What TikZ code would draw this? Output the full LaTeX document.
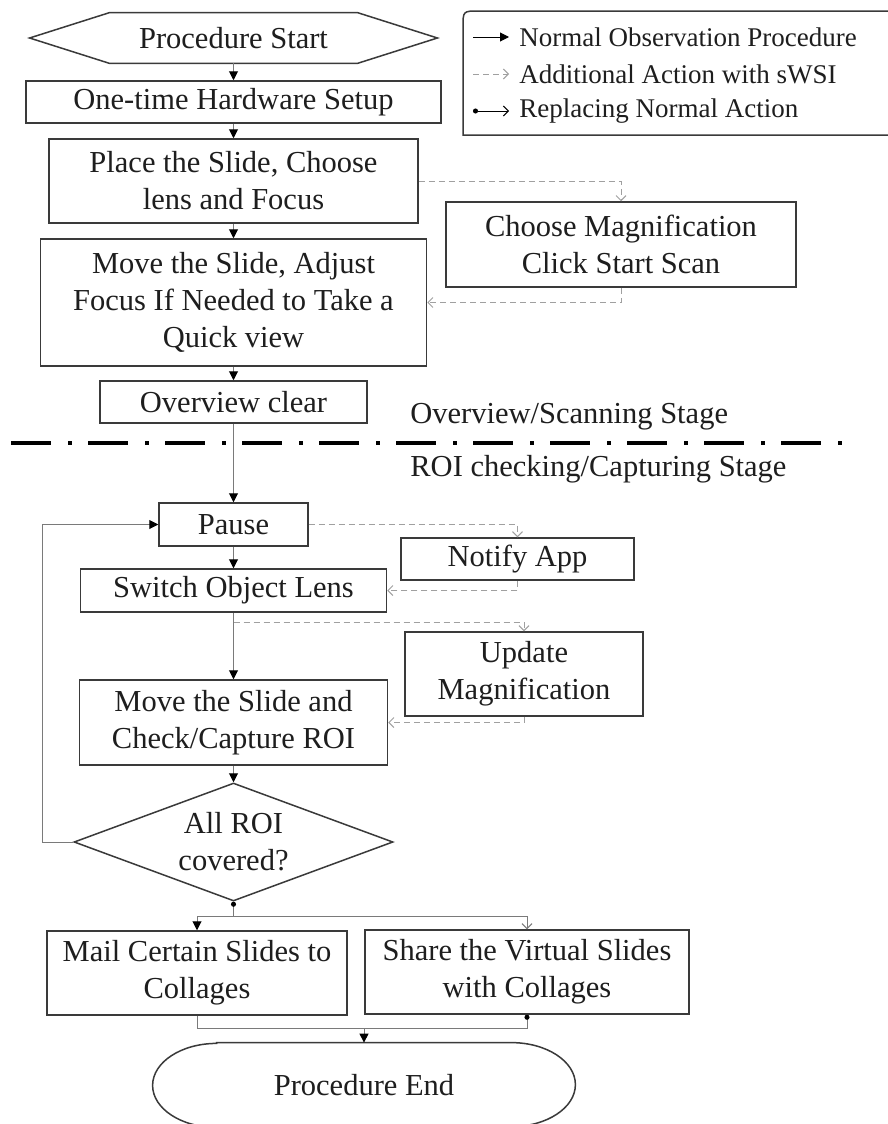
\documentclass[tikz,border=0pt]{standalone}
\usepackage{fontspec}
\setmainfont{Liberation Serif}
\usetikzlibrary{arrows.meta, shapes.geometric, calc}
\definecolor{ink}{HTML}{1E1E1E}
\definecolor{edge}{HTML}{3A3A3A}
\definecolor{wire}{HTML}{7A7A7A}
\definecolor{extra}{HTML}{A0A0A0}
\newcommand{\bodyfont}{\fontsize{15.25pt}{18.5pt}\selectfont}
\newcommand{\keyfont}{\fontsize{13.5pt}{15.5pt}\selectfont}
\tikzset{
  box/.style={draw=edge, line width=0.75pt, text=ink, font=\bodyfont, align=center, inner sep=0pt},
  dec/.style={diamond, aspect=2.7, draw=edge, line width=0.75pt, text=ink, font=\bodyfont,
              align=center, inner sep=0pt},
  bare/.style={text=ink, font=\bodyfont, align=center, inner sep=0pt},
  outline/.style={draw=edge, line width=0.75pt},
  arr/.style={-{Triangle[length=4.5pt, width=4.5pt, color=black]}, line width=0.5pt, draw=wire},
  addarr/.style={-{Straight Barb[length=2.5pt, width=5pt]}, line width=0.5pt, draw=extra,
                 dash pattern=on 3pt off 2pt},
  reparr/.style={{Circle[length=2.5pt, color=black]}-{Straight Barb[length=2.5pt, width=5pt]},
                 line width=0.5pt, draw=wire},
  repline/.style={{Circle[length=2.5pt, color=black]}-, line width=0.5pt, draw=wire},
  stagesep/.style={line width=2pt, draw=black, dash pattern=on 20pt off 8.5pt on 2pt off 8pt},
  key/.style={text=ink, font=\keyfont, anchor=west, inner sep=0pt},
}

\begin{document}
\begin{tikzpicture}[x=0.5pt, y=-0.5pt]
  \useasboundingbox[fill=white] (0,0) rectangle (888,1124);

  \node[bare, minimum width=203.5pt, minimum height=25pt] (start) at (233.5,38) {Procedure Start};
  \draw[outline] (start.west) -- ([xshift=40pt]start.north west) -- ([xshift=-40pt]start.north east)
    -- (start.east) -- ([xshift=-40pt]start.south east) -- ([xshift=40pt]start.south west) -- cycle;
  \node[box, minimum width=207.5pt, minimum height=21pt] (setup) at (233.5,102) {One-time Hardware Setup};
  \node[box, minimum width=184.5pt, minimum height=42pt] (place) at (233.5,181) {Place the Slide, Choose\\lens and Focus};
  \node[box, minimum width=193pt, minimum height=63.5pt] (move) at (233.5,302.5) {Move the Slide, Adjust\\Focus If Needed to Take a\\Quick view};
  \node[box, minimum width=175pt, minimum height=42.5pt] (choose) at (621,244.5) {Choose Magnification\\Click Start Scan};
  \node[box, minimum width=133.5pt, minimum height=21pt] (overview) at (233.5,402) {Overview clear};

  \node[bare, anchor=west] (upper) at (410,417) {Overview/Scanning Stage};
  \node[bare, anchor=west] (lower) at (410,469) {ROI checking/Capturing Stage};
  \coordinate (sepl) at (11,443);
  \coordinate (sepr) at (845,443);
  \draw[stagesep] (sepl) -- (sepr);

  \node[box, minimum width=74.5pt, minimum height=21.5pt] (pause) at (233.5,524.5) {Pause};
  \node[box, minimum width=116.5pt, minimum height=21pt] (notify) at (517.5,559) {Notify App};
  \node[box, minimum width=153pt, minimum height=21.5pt] (lens) at (233.5,590.5) {Switch Object Lens};
  \node[box, minimum width=119pt, minimum height=42pt] (update) at (524,674) {Update\\Magnification};
  \node[box, minimum width=154pt, minimum height=42.5pt] (check) at (233.5,722.5) {Move the Slide and\\Check/Capture ROI};
  \node[dec, minimum width=159.5pt, minimum height=59pt] (roi) at (233.5,842) {All ROI\\covered?};
  \node[box, minimum width=150pt, minimum height=42pt] (mail) at (197,973) {Mail Certain Slides to\\Collages};
  \node[box, minimum width=162pt, minimum height=42pt] (share) at (527,972) {Share the Virtual Slides\\with Collages};
  \node[bare, minimum width=211pt, minimum height=42pt] (stop) at (364,1085) {Procedure End};
  \draw[outline] ([xshift=32pt]stop.north west) -- ([xshift=-32pt]stop.north east)
    arc[start angle=90, end angle=-90, x radius=32pt, y radius=21pt]
    -- ([xshift=32pt]stop.south west)
    arc[start angle=270, end angle=90, x radius=32pt, y radius=21pt] -- cycle;

  \draw[arr] (start.south) -- (setup.north);
  \draw[arr] (setup.south) -- (place.north);
  \draw[arr] (place.south) -- (move.north);
  \draw[arr] (move.south) -- (overview.north);
  \draw[arr] (overview.south) -- (pause.north);
  \draw[arr] (pause.south) -- (lens.north);
  \draw[arr] (lens.south) -- (check.north);
  \draw[arr] (check.south) -- (roi.north);
  \draw[arr] (roi.west) -- ++(-31,0) |- (pause.west);

  \draw[addarr] (place.east) -| (choose.north);
  \draw[addarr] (choose.south) |- (move.east);
  \draw[addarr] (pause.east) -| (notify.north);
  \draw[addarr] (notify.south) |- (lens.east);
  \coordinate (tap) at (233.5,622);
  \draw[addarr] (tap) -| (update.north);
  \draw[addarr] (update.south) |- (check.east);

  \coordinate (fork) at (233.5,916);
  \draw[reparr] (roi.south) -- (fork) -| (share.north);
  \draw[arr] (fork) -| (mail.north);
  \coordinate (join) at (364,1028);
  \draw[repline] (share.south) |- (join) -| (mail.south);
  \draw[arr] (join) -- (stop.north);

  \draw[outline] (888,11) -- (479,11) .. controls (463,11) .. (463,27) -- (463,135) -- (888,135);
  \coordinate (k1) at (473,37);
  \coordinate (k2) at (473,74);
  \coordinate (k3) at (473,111);
  \node[key] (t1) at (519,37) {Normal Observation Procedure};
  \node[key] (t2) at (519,74) {Additional Action with sWSI};
  \node[key] (t3) at (519,111) {Replacing Normal Action};
  \draw[arr, draw=black] (k1) -- ([xshift=-5pt]t1.west);
  \draw[addarr] (k2) -- ([xshift=-5pt]t2.west);
  \draw[reparr, draw=black] (k3) -- ([xshift=-5pt]t3.west);
\end{tikzpicture}
\end{document}
